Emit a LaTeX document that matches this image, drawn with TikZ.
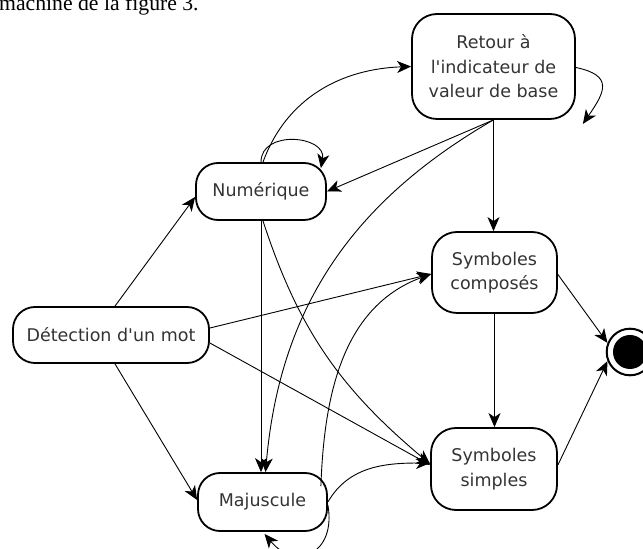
\documentclass[tikz,border=0pt]{standalone}
\usepackage{fontspec}
\newfontfamily\dvfont{DejaVu Sans}
\newfontfamily\capfont{Liberation Serif}
\usetikzlibrary{arrows.meta,calc}
\begin{document}
\begin{tikzpicture}[x=1pt,y=1pt,
  nodetext/.style={inner sep=0pt, align=center, text=black!80, font=\dvfont\fontsize{17.5}{24.5}\selectfont},
  sbox/.style={nodetext, draw=black, line width=1.8pt, rounded corners=25pt},
  pill/.style={nodetext, draw=black, line width=1.8pt, rounded corners=22pt},
  tr/.style={line width=0.9pt, -{Stealth[length=14pt,width=12pt,inset=4pt]}}
]
\useasboundingbox (0,0) rectangle (643,549);
\node[anchor=base west, inner sep=0pt, font=\capfont\fontsize{21.7}{24}\selectfont] (cap) at (-1,538) {machine de la figure 3.};

\node[sbox, minimum width=163pt, minimum height=105pt] (ret) at (493.5,482.5) {Retour à\\l'indicateur de\\valeur de base};
\node[pill, minimum width=130pt, minimum height=57pt] (num) at (261,357.5) {Numérique};
\node[pill, minimum width=196pt, minimum height=56pt] (det) at (111,214) {Détection d'un mot};
\node[pill, minimum width=129pt, minimum height=58pt] (maj) at (262.5,47) {Majuscule};
\node[sbox, minimum width=125pt, minimum height=81pt] (sc) at (494.5,276.5) {Symboles\\composés};
\node[sbox, minimum width=126pt, minimum height=82pt] (ss) at (494,80) {Symboles\\simples};
\node[circle, draw=black, line width=2pt, minimum size=46.6pt, inner sep=0pt] (fin) at (630,197) {};
\node[circle, fill=black, minimum size=34pt, inner sep=0pt] (fincore) at (fin.center) {};

% from Detection
\draw[tr] ([xshift=4pt]det.north) -- ([yshift=-5.5pt]num.west);
\draw[tr] ([xshift=4pt]det.south) -- ([yshift=2pt]maj.west);
\draw[tr] ([yshift=7pt]det.east) -- ([yshift=-1.5pt]sc.west);
\draw[tr] ([yshift=-8pt]det.east) -- ([yshift=4pt]ss.west);

% from Numerique
\draw[tr] (num.south) -- (num.south |- maj.north);
\draw[tr] ([xshift=2pt]num.south) to[out=-72,in=140] ([yshift=5pt]ss.west);
\draw[tr] ([xshift=2pt]num.north) to[out=70,in=182] (ret.west);
\coordinate (numloop) at ([xshift=-6pt,yshift=-6pt]num.north east);
\draw[tr] (num.north) to[out=90,in=80,looseness=1.4] (numloop);

% from Retour
\draw[tr] (ret.south) -- (num.east);
\draw[tr] (ret.south) to[out=210,in=85] ([xshift=3pt]maj.north);
\draw[tr] (ret.south) -- (ret.south |- sc.north);
\coordinate (retloop) at ([xshift=7pt,yshift=-4pt]ret.south east);
\draw[tr] ([yshift=-1pt]ret.east) .. controls +(38,-8) and +(22,32) .. (retloop);

% from Majuscule
\draw[tr] ([xshift=-7pt,yshift=-14pt]maj.north east) to[out=88,in=200] ([yshift=-1.5pt]sc.west);
\draw[tr] (maj.east) to[out=60,in=180] ([yshift=6pt]ss.west);
\coordinate (majloop) at ([xshift=2pt,yshift=-2pt]maj.south);
\draw[tr] ([yshift=-3pt]maj.east) to[out=-80,in=-50,looseness=1.8] (majloop);

% to the end
\draw[tr] (sc.south) -- (sc.south |- ss.north);
\draw[tr] ([yshift=-2pt]sc.east) -- (fin.158);
\draw[tr] ([yshift=4pt]ss.east) -- (fin.202);
\end{tikzpicture}
\end{document}
